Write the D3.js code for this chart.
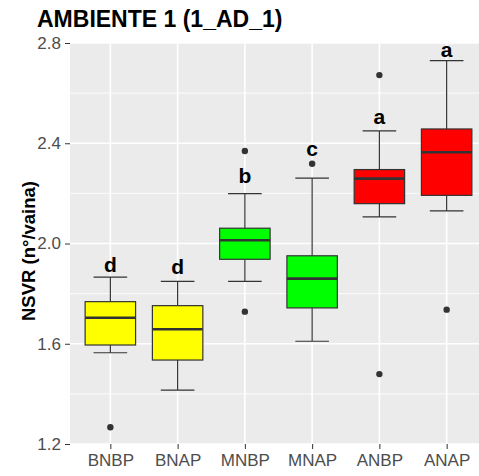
<!DOCTYPE html>
<html>
<head>
<meta charset="utf-8">
<script src="https://cdn.jsdelivr.net/npm/d3@7"></script>
<style>
body { margin: 0; background: #fff; }
text { font-family: Arial, "Liberation Sans", sans-serif; }
</style>
</head>
<body>
<svg id="chart"></svg>
<script>
const categories = ["BNBP", "BNAP", "MNBP", "MNAP", "ANBP", "ANAP"];
const fills = ["#FFFF00", "#FFFF00", "#00FF00", "#00FF00", "#FF0000", "#FF0000"];
// lower whisker, Q1, median, Q3, upper whisker
const lowWhisker = [1.564, 1.415, 1.849, 1.610, 2.106, 2.130];
const q1 = [1.595, 1.535, 1.937, 1.743, 2.159, 2.192];
const medians = [1.704, 1.658, 2.013, 1.860, 2.259, 2.364];
const q3 = [1.768, 1.752, 2.061, 1.951, 2.295, 2.457];
const highWhisker = [1.866, 1.849, 2.199, 2.261, 2.449, 2.730];
const outliers = [[1.267], [], [1.728, 2.369], [2.318], [1.479, 2.672], [1.736]];
const letters = ["d", "d", "b", "c", "a", "a"];
const letterY = [1.885, 1.877, 2.241, 2.350, 2.476, 2.745];
const yTicks = [1.2, 1.6, 2.0, 2.4, 2.8];
const yMinor = [1.4, 1.8, 2.2, 2.6];

const width = 479, height = 476;
const svg = d3.select("#chart").attr("width", width).attr("height", height);

const pLeft = 70, pRight = 487, pTop = 43, pBottom = 444;

const x = d3.scalePoint()
  .domain(categories)
  .range([pLeft, pRight])
  .padding(0.6);
const y = d3.scaleLinear()
  .domain([1.2, 2.8])
  .range([pBottom, pTop]);
const step = x.step();

const boxes = categories.map((c, i) => ({
  cat: c, fill: fills[i], lo: lowWhisker[i], q1: q1[i], med: medians[i],
  q3: q3[i], hi: highWhisker[i], out: outliers[i], letter: letters[i], ly: letterY[i]
}));

// panel
svg.append("rect")
  .attr("x", pLeft).attr("y", pTop)
  .attr("width", pRight - pLeft).attr("height", pBottom - pTop)
  .attr("fill", "#EBEBEB");

svg.selectAll(".minor")
  .data(yMinor)
  .enter()
  .append("line")
  .attr("x1", pLeft).attr("x2", pRight)
  .attr("y1", d => y(d)).attr("y2", d => y(d))
  .attr("stroke", "#fff").attr("stroke-width", 0.8);

svg.selectAll(".major")
  .data(yTicks)
  .enter()
  .append("line")
  .attr("x1", pLeft).attr("x2", pRight)
  .attr("y1", d => y(d)).attr("y2", d => y(d))
  .attr("stroke", "#fff").attr("stroke-width", 1.6);

svg.selectAll(".vgrid")
  .data(categories)
  .enter()
  .append("line")
  .attr("x1", d => x(d)).attr("x2", d => x(d))
  .attr("y1", pTop).attr("y2", pBottom)
  .attr("stroke", "#fff").attr("stroke-width", 1.6);

// axes
const yAxis = svg.append("g")
  .attr("transform", `translate(${pLeft},0)`)
  .call(d3.axisLeft(y).tickValues(yTicks).tickFormat(d3.format(".1f")).tickSize(5).tickPadding(4));
const xAxis = svg.append("g")
  .attr("transform", `translate(0,${pBottom})`)
  .call(d3.axisBottom(x).tickSize(5).tickPadding(5));
[yAxis, xAxis].forEach(g => {
  g.select(".domain").remove();
  g.selectAll(".tick line").attr("stroke", "#333333");
  g.selectAll(".tick text")
    .attr("fill", "#4D4D4D")
    .style("font-size", "17px")
    .style("font-family", "Arial, 'Liberation Sans', sans-serif");
});

// boxes
const g = svg.selectAll(".box")
  .data(boxes)
  .enter()
  .append("g");

g.append("line")
  .attr("x1", d => x(d.cat)).attr("x2", d => x(d.cat))
  .attr("y1", d => y(d.hi)).attr("y2", d => y(d.q3))
  .attr("stroke", "#333333").attr("stroke-width", 1.2);
g.append("line")
  .attr("x1", d => x(d.cat)).attr("x2", d => x(d.cat))
  .attr("y1", d => y(d.q1)).attr("y2", d => y(d.lo))
  .attr("stroke", "#333333").attr("stroke-width", 1.2);
g.append("line")
  .attr("x1", d => x(d.cat) - step * 0.25).attr("x2", d => x(d.cat) + step * 0.25)
  .attr("y1", d => y(d.hi)).attr("y2", d => y(d.hi))
  .attr("stroke", "#333333").attr("stroke-width", 1.2);
g.append("line")
  .attr("x1", d => x(d.cat) - step * 0.25).attr("x2", d => x(d.cat) + step * 0.25)
  .attr("y1", d => y(d.lo)).attr("y2", d => y(d.lo))
  .attr("stroke", "#333333").attr("stroke-width", 1.2);
g.append("rect")
  .attr("x", d => x(d.cat) - step * 0.375)
  .attr("y", d => y(d.q3))
  .attr("width", step * 0.75)
  .attr("height", d => y(d.q1) - y(d.q3))
  .attr("fill", d => d.fill)
  .attr("stroke", "#333333").attr("stroke-width", 1.2);
g.append("line")
  .attr("x1", d => x(d.cat) - step * 0.375).attr("x2", d => x(d.cat) + step * 0.375)
  .attr("y1", d => y(d.med)).attr("y2", d => y(d.med))
  .attr("stroke", "#333333").attr("stroke-width", 2.6);

g.selectAll("circle")
  .data(d => d.out.map(v => ({cat: d.cat, v: v})))
  .enter()
  .append("circle")
  .attr("cx", d => x(d.cat))
  .attr("cy", d => y(d.v))
  .attr("r", 3.2)
  .attr("fill", "#333333");

g.append("text")
  .attr("x", d => x(d.cat))
  .attr("y", d => y(d.ly))
  .attr("text-anchor", "middle")
  .style("font-size", "21px")
  .style("font-weight", "bold")
  .attr("fill", "#000")
  .text(d => d.letter);

// titles
svg.append("text")
  .attr("x", 37).attr("y", 27)
  .style("font-size", "23px")
  .style("font-weight", "bold")
  .attr("fill", "#000")
  .text("AMBIENTE 1 (1_AD_1)");

svg.append("text")
  .attr("transform", "translate(35,251) rotate(-90)")
  .attr("text-anchor", "middle")
  .style("font-size", "18.5px")
  .style("font-weight", "bold")
  .attr("fill", "#000")
  .text("NSVR (n°/vaina)");
</script>
</body>
</html>
